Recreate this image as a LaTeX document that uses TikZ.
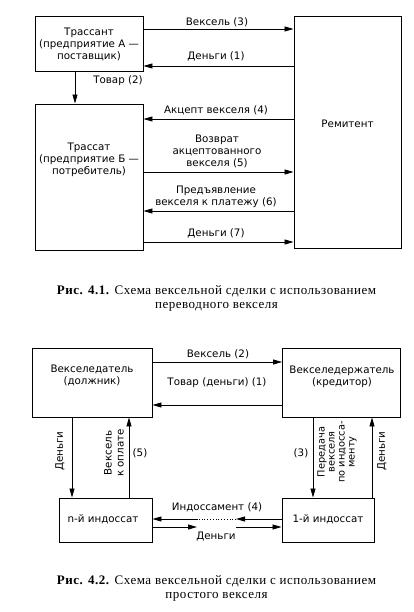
\documentclass[tikz,border=0pt]{standalone}
\usepackage{fontspec}
\setmainfont{Liberation Serif}
\setsansfont{DejaVu Sans}
\newfontfamily\capfont[LetterSpace=4]{Liberation Serif}
\usetikzlibrary{arrows.meta}
\begin{document}
\begin{tikzpicture}[x=1pt,y=-1pt,
  box/.style={draw, line width=0.9pt, inner sep=0pt, fill=white},
  lbl/.style={font=\sffamily\fontsize{10.3}{12}\selectfont, align=center, inner sep=0pt},
  captxt/.style={font=\capfont\fontsize{13}{13.5}\selectfont, align=center, inner sep=0pt},
  arr/.style={-{Triangle[length=9pt,width=5pt]}, line width=0.8pt},
  ln/.style={line width=0.8pt}]
\useasboundingbox (0,0) rectangle (414,612);

% ---------- Figure 4.1 ----------
\node[box, minimum width=108pt, minimum height=55pt] (trassant) at (89,43.5) {};
\node[lbl] (trassantT) at (89,44) {Трассант\\(предприятие А —\\поставщик)};
\node[box, minimum width=107pt, minimum height=232pt] (remit) at (347.5,132) {};
\node[lbl] (remitT) at (347.5,124) {Ремитент};
\node[box, minimum width=108pt, minimum height=146pt] (trassat) at (89,177) {};
\node[lbl] (trassatT) at (89,160) {Трассат\\(предприятие Б —\\потребитель)};

\draw[arr] (trassant.east |- 0,29) -- (remit.west |- 0,29);
\node[lbl] (l3) at (217,22) {Вексель (3)};
\draw[arr] (remit.west |- 0,66) -- (trassant.east |- 0,66);
\node[lbl] (l1) at (216,56) {Деньги (1)};
\draw[arr] (trassant.south -| 75,0) -- (trassat.north -| 75,0);
\node[lbl] (l2) at (118,81) {Товар (2)};
\draw[arr] (remit.west |- 0,119) -- (trassat.east |- 0,119);
\node[lbl] (l4) at (216,110) {Акцепт векселя (4)};
\draw[arr] (trassat.east |- 0,172) -- (remit.west |- 0,172);
\node[lbl] (l5) at (217,151) {Возврат\\акцептованного\\векселя (5)};
\draw[arr] (remit.west |- 0,211) -- (trassat.east |- 0,211);
\node[lbl] (l6) at (216,197) {Предъявление\\векселя к платежу (6)};
\draw[arr] (trassat.east |- 0,242) -- (remit.west |- 0,242);
\node[lbl] (l7) at (216,233) {Деньги (7)};

\node[captxt] (cap1) at (216.5,298.5) {\textbf{Рис. 4.1.} Схема вексельной сделки с использованием\\переводного векселя};

% ---------- Figure 4.2 ----------
\node[box, minimum width=120pt, minimum height=69pt] (vdat) at (92,382.5) {};
\node[lbl] (vdatT) at (92,375) {Векселедатель\\(должник)};
\node[box, minimum width=118pt, minimum height=69pt] (vder) at (341.5,382.5) {};
\node[lbl] (vderT) at (342,376.5) {Векселедержатель\\(кредитор)};
\node[box, minimum width=93pt, minimum height=44pt] (nind) at (105.5,520) {};
\node[lbl] (nindT) at (103,519) {n-й индоссат};
\node[box, minimum width=92pt, minimum height=44pt] (oind) at (328,520) {};
\node[lbl] (oindT) at (328,519) {1-й индоссат};

\draw[arr] (vdat.east |- 0,362) -- (vder.west |- 0,362);
\node[lbl] (m2) at (218,354) {Вексель (2)};
\draw[arr] (vder.west |- 0,405) -- (vdat.east |- 0,405);
\node[lbl] (m1) at (217,383) {Товар (деньги) (1)};

\draw[arr] (vdat.south -| 72,0) -- (nind.north -| 72,0);
\node[lbl, rotate=90] (md1) at (60,451) {Деньги};
\draw[arr] (nind.north -| 129,0) -- (vdat.south -| 129,0);
\node[lbl, rotate=90] (m5t) at (114,453) {Вексель\\к оплате};
\node[lbl] (m5) at (140,453) {(5)};

\draw[arr] (vder.south -| 313,0) -- (oind.north -| 313,0);
\node[lbl] (m3) at (301,453) {(3)};
\node[lbl, rotate=90, font=\sffamily\fontsize{9.8}{10}\selectfont] (m3t) at (337,452) {Передача\\векселя\\по индосса-\\менту};
\draw[arr] (oind.north -| 372,0) -- (vder.south -| 372,0);
\node[lbl, rotate=90] (md2) at (382,451) {Деньги};

\coordinate (ia) at (236,519);
\coordinate (ib) at (198,519);
\draw[arr] (oind.west |- ia) -- (ia);
\draw[ln, dotted] (ia) -- (ib);
\draw[arr] (ib) -- (nind.east |- ib);
\node[lbl] (m4) at (217,507) {Индоссамент (4)};

\coordinate (da) at (197,527);
\coordinate (db) at (236,527);
\draw[arr] (nind.east |- da) -- (da);
\draw[arr] (db) -- (oind.west |- db);
\node[lbl] (m6) at (216,537) {Деньги};

\node[captxt] (cap2) at (216.5,588.5) {\textbf{Рис. 4.2.} Схема вексельной сделки с использованием\\простого векселя};
\end{tikzpicture}
\end{document}
